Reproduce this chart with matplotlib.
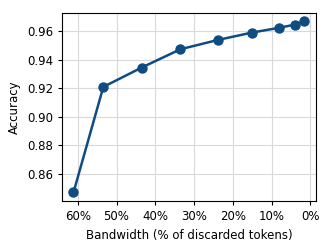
import matplotlib
matplotlib.use("Agg")
import matplotlib.pyplot as plt
from matplotlib.ticker import FuncFormatter

discarded = [61.1, 53.4, 43.5, 33.5, 23.8, 15.1, 8.2, 3.9, 1.5]
accuracy = [0.8472, 0.9209, 0.9344, 0.9472, 0.9537, 0.9588, 0.9621, 0.9644, 0.9667]

fig, ax = plt.subplots(figsize=(3.33, 2.5), dpi=100)
ax.plot(discarded, accuracy, color="#0f4c81", marker="o", markersize=6.5, linewidth=1.8)
ax.invert_xaxis()
ax.set_xticks([60, 50, 40, 30, 20, 10, 0])
ax.xaxis.set_major_formatter(FuncFormatter(lambda v, p: f"{int(round(v))}%"))
ax.set_yticks([0.86, 0.88, 0.90, 0.92, 0.94, 0.96])
ax.yaxis.set_major_formatter(FuncFormatter(lambda v, p: f"{v:.2f}"))
ax.grid(True, color="#d9d9d9", linewidth=0.8)
ax.set_axisbelow(True)
ax.tick_params(labelsize=8.5, length=3)
ax.set_xlabel("Bandwidth (% of discarded tokens)", fontsize=8.5)
ax.set_ylabel("Accuracy", fontsize=8.5)
fig.subplots_adjust(left=0.186, right=0.949, top=0.949, bottom=0.196)
fig.savefig("out.png", dpi=100)
